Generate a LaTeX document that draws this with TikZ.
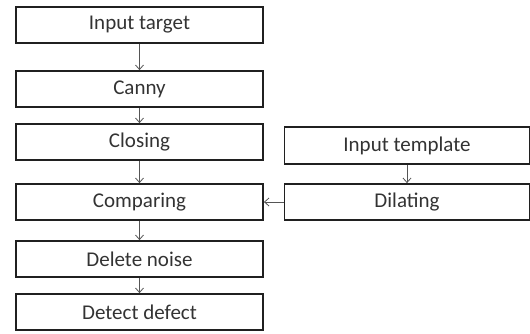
\documentclass[tikz,border=0pt]{standalone}
\usepackage{fontspec}
\setmainfont{Carlito}
\usetikzlibrary{arrows.meta}
\definecolor{boxline}{HTML}{202020}
\definecolor{txt}{HTML}{333333}
\definecolor{conn}{HTML}{555555}
\begin{document}
\begin{tikzpicture}[x=1pt,y=-1pt,
  stepbox/.style={draw=boxline,line width=1.8pt,rectangle,minimum height=36pt,
    inner sep=0pt,text=txt,font=\fontsize{21}{24}\selectfont},
  leftbox/.style={stepbox,minimum width=247pt},
  rightbox/.style={stepbox,minimum width=245pt},
  conarrow/.style={draw=conn,line width=0.8pt,-{Straight Barb[length=4.5pt,width=8pt]}}]
\useasboundingbox (0,0) rectangle (530,333);
\node[leftbox] (a) at (139.5,25) {Input target};
\node[leftbox] (b) at (139.5,89) {Canny};
\node[leftbox] (c) at (139.5,142) {Closing};
\node[leftbox] (d) at (139.5,202) {Comparing};
\node[leftbox] (e) at (139.5,259) {Delete noise};
\node[leftbox] (f) at (139.5,312) {Detect defect};
\node[rightbox,minimum height=37pt] (t) at (407,145.5) {Input template};
\node[rightbox] (g) at (407,202) {Dilating};
\draw[conarrow] (a) -- (b);
\draw[conarrow] (b) -- (c);
\draw[conarrow] (c) -- (d);
\draw[conarrow] (d) -- (e);
\draw[conarrow] (e) -- (f);
\draw[conarrow] (t) -- (g);
\draw[conarrow] (g) -- (d);
\end{tikzpicture}
\end{document}
